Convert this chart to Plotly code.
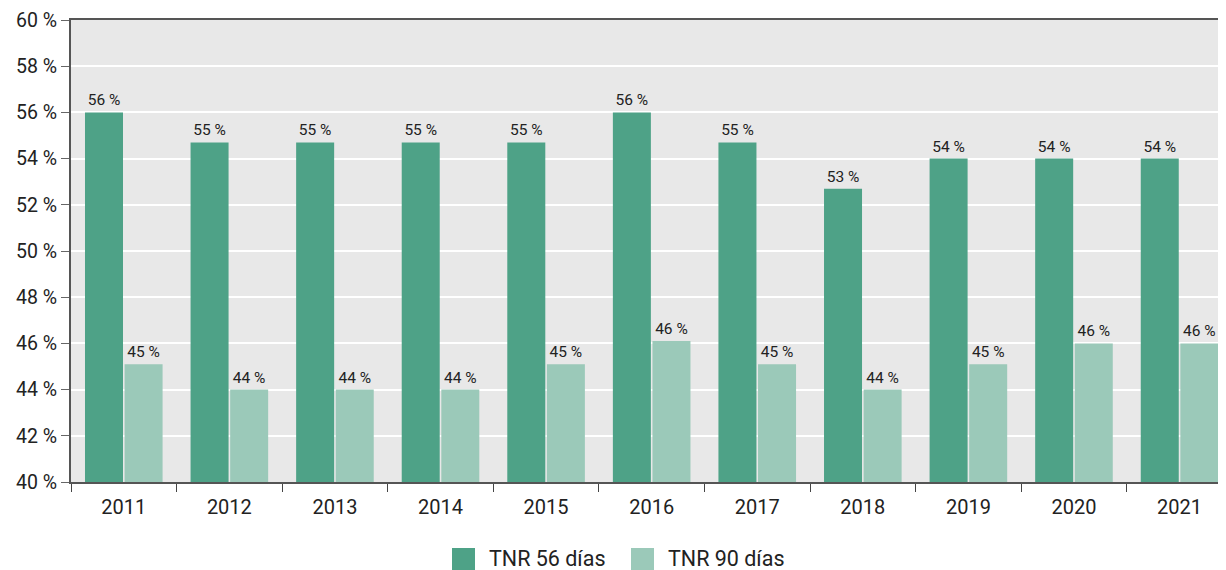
import plotly.graph_objects as go

YEARS = ["2011", "2012", "2013", "2014", "2015", "2016", "2017", "2018", "2019", "2020", "2021"]
TNR_56 = [56.0, 54.7, 54.7, 54.7, 54.7, 56.0, 54.7, 52.7, 54.0, 54.0, 54.0]
TNR_90 = [45.1, 44.0, 44.0, 44.0, 45.1, 46.1, 45.1, 44.0, 45.1, 46.0, 46.0]
SERIES_NAMES = ["TNR 56 días", "TNR 90 días"]

DARK = "#4ea287"
LIGHT = "#9bc9b9"
INK = "#222222"
FONT = "Roboto"

# Page geometry (the html body adds an 8 px margin around the figure).
PLOT_L, PLOT_T, PLOT_W, PLOT_H = 71, 20, 1155, 462


def px_x(x):
    return (x - PLOT_L) / PLOT_W


def px_y(y):
    return (PLOT_T + PLOT_H - y) / PLOT_H


fig = go.Figure()
for name, values, color in [(SERIES_NAMES[0], TNR_56, DARK), (SERIES_NAMES[1], TNR_90, LIGHT)]:
    fig.add_trace(
        go.Bar(
            x=YEARS,
            y=values,
            name=name,
            marker={"color": color, "line": {"width": 0}},
            texttemplate="%{y:.0f} %",
            textposition="outside",
            textfont={"size": 15.5, "color": INK, "family": FONT},
            showlegend=False,
        )
    )

# Manual legend (large square swatches) below the chart.
legend_items = [(SERIES_NAMES[0], DARK, 452), (SERIES_NAMES[1], LIGHT, 631)]
for name, color, x0 in legend_items:
    fig.add_shape(
        type="rect",
        xref="paper", yref="paper",
        x0=px_x(x0), x1=px_x(x0 + 23),
        y0=px_y(572), y1=px_y(548),
        fillcolor=color, line={"width": 0},
    )
    fig.add_annotation(
        xref="paper", yref="paper",
        x=px_x(x0 + 35), y=px_y(558),
        xanchor="left", yanchor="middle",
        text=name, showarrow=False,
        font={"size": 21.5, "color": INK, "family": FONT},
    )

fig.update_layout(
    width=1218,
    height=562,
    margin={"l": PLOT_L - 8, "r": 0, "t": PLOT_T - 8, "b": 562 - (PLOT_T - 8) - PLOT_H},
    barmode="group",
    bargap=0.25,
    bargroupgap=0.04,
    plot_bgcolor="#e8e8e8",
    paper_bgcolor="white",
    font={"family": FONT, "size": 18, "color": INK},
    showlegend=False,
    xaxis={
        "type": "category",
        "range": [-0.5, 10.44],
        "tickson": "boundaries",
        "ticks": "outside",
        "ticklen": 8,
        "tickcolor": "#444444",
        "ticklabelstandoff": 6,
        "showline": True,
        "linecolor": "#555555",
        "linewidth": 2,
        "mirror": True,
        "showgrid": False,
        "tickfont": {"size": 20, "color": INK},
        "fixedrange": True,
    },
    yaxis={
        "range": [40, 60],
        "dtick": 2,
        "ticksuffix": " %",
        "ticks": "outside",
        "ticklen": 8,
        "tickcolor": "#666666",
        "showline": True,
        "linecolor": "#555555",
        "linewidth": 2,
        "gridcolor": "white",
        "gridwidth": 1.5,
        "zeroline": False,
        "tickfont": {"size": 19.5, "color": INK},
        "fixedrange": True,
    },
)

fig.write_html("out.html")
